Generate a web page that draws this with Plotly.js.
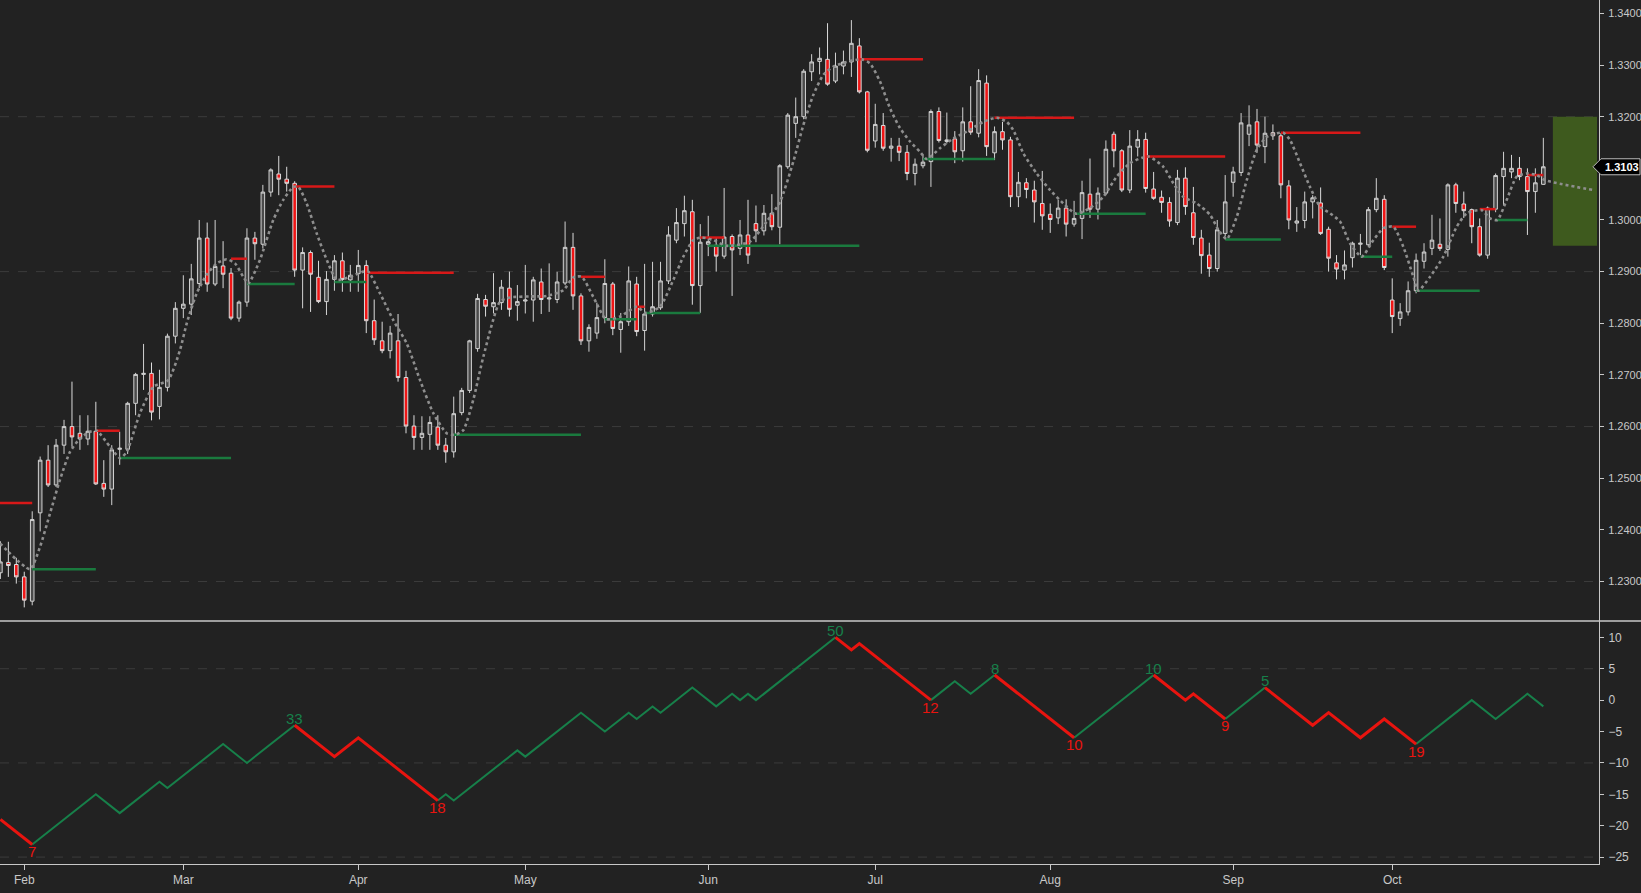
<!DOCTYPE html>
<html>
<head>
<meta charset="utf-8">
<script src="https://cdn.plot.ly/plotly-3.0.1.min.js"></script>
<style>
html,body{margin:0;padding:0;background:#222222;overflow:hidden;}
#chart{width:1641px;height:893px;}
</style>
</head>
<body>
<div id="chart"></div>
<script>
// ---- Month ticks (trading-day index; day 0 = Jan 29) ----
const monthIdx = [3, 23, 45, 66, 89, 110, 132, 155, 175];
const monthNames = ['Feb', 'Mar', 'Apr', 'May', 'Jun', 'Jul', 'Aug', 'Sep', 'Oct'];
// price tick labels visible on the right axis (1.3100 is hidden under the last-price tag)
const priceTicks = [1.23, 1.24, 1.25, 1.26, 1.27, 1.28, 1.29, 1.30, 1.32, 1.33, 1.34];
const oscTicks = [-25, -20, -15, -10, -5, 0, 5, 10];

// ---- Daily OHLC ----
const opens = [
1.2317,1.2337,1.2333,1.2309,1.2262,1.2433,1.2535,1.2487,1.2564,1.2600,
1.2587,1.2576,1.2591,1.2490,1.2479,1.2556,1.2556,1.2645,1.2701,1.2703,
1.2639,1.2676,1.2775,1.2829,1.2837,1.2877,1.2965,1.2876,1.2911,1.2897,
1.2810,1.2841,1.2965,1.2953,1.3054,1.3089,1.3079,1.3071,1.2903,1.2937,
1.2889,1.2842,1.2885,1.2921,1.2884,1.2896,1.2912,1.2805,1.2766,1.2747,
1.2766,1.2695,1.2601,1.2579,1.2585,1.2599,1.2564,1.2551,1.2627,1.2670,
1.2751,1.2846,1.2832,1.2840,1.2868,1.2835,1.2843,1.2845,1.2880,1.2847,
1.2846,1.2878,1.2947,1.2853,1.2766,1.2781,1.2811,1.2876,1.2788,1.2803,
1.2876,1.2786,1.2818,1.2830,1.2882,1.2961,1.2993,1.3016,1.2873,1.2953,
1.2951,1.2930,1.2968,1.2945,1.2971,1.2993,1.2979,1.3013,1.2986,1.3103,
1.3187,1.3200,1.3287,1.3307,1.3311,1.3269,1.3298,1.3306,1.3337,1.3248,
1.3153,1.3183,1.3139,1.3143,1.3131,1.3090,1.3105,1.3113,1.3210,1.3152,
1.3157,1.3134,1.3190,1.3168,1.3265,1.3130,1.3171,1.3155,1.3045,1.3072,
1.3058,1.3032,1.3011,1.3004,1.3023,1.2992,1.3003,1.3050,1.3021,1.3052,
1.3166,1.3134,1.3058,1.3141,1.3156,1.3060,1.3044,1.3034,1.2995,1.3081,
1.3014,1.2965,1.2932,1.2906,1.2974,1.3073,1.3092,1.3166,1.3190,1.3142,
1.3169,1.3163,1.3066,1.2994,1.2999,1.3035,1.3033,1.2982,1.2917,1.2903,
1.2927,1.2953,1.2952,1.3020,1.3040,1.2845,1.2809,1.2822,1.2863,1.2920,
1.2945,1.2953,1.2943,1.3068,1.3031,1.3020,1.2987,1.2932,1.3021,1.3084,
1.3093,1.3100,1.3084,1.3055,1.3069];
const highs = [
1.2378,1.2377,1.2346,1.2319,1.2436,1.2542,1.2564,1.2576,1.2613,1.2687,
1.2622,1.2622,1.2648,1.2535,1.2564,1.2590,1.2648,1.2704,1.2760,1.2724,
1.2710,1.2780,1.2841,1.2893,1.2915,1.3000,1.2995,1.3000,1.2959,1.2907,
1.2844,1.2984,1.2977,1.3068,1.3100,1.3124,1.3103,1.3075,1.2947,1.2941,
1.2921,1.2901,1.2932,1.2937,1.2913,1.2942,1.2922,1.2846,1.2803,1.2795,
1.2818,1.2708,1.2622,1.2620,1.2620,1.2622,1.2578,1.2658,1.2675,1.2768,
1.2857,1.2855,1.2897,1.2884,1.2900,1.2874,1.2913,1.2890,1.2906,1.2916,
1.2900,1.2997,1.2975,1.2858,1.2798,1.2840,1.2924,1.2880,1.2820,1.2910,
1.2890,1.2915,1.2919,1.2919,1.2988,1.3023,1.3047,1.3039,1.2992,1.3008,
1.2965,1.3062,1.2972,1.3000,1.3039,1.3028,1.3029,1.3050,1.3108,1.3207,
1.3237,1.3292,1.3321,1.3334,1.3381,1.3324,1.3328,1.3387,1.3352,1.3250,
1.3225,1.3207,1.3159,1.3159,1.3145,1.3119,1.3126,1.3214,1.3218,1.3208,
1.3172,1.3218,1.3259,1.3292,1.3280,1.3181,1.3190,1.3161,1.3093,1.3081,
1.3076,1.3095,1.3032,1.3039,1.3040,1.3037,1.3076,1.3119,1.3063,1.3154,
1.3171,1.3137,1.3174,1.3174,1.3169,1.3093,1.3057,1.3044,1.3097,1.3102,
1.3064,1.2981,1.2956,1.3000,1.3087,1.3103,1.3207,1.3222,1.3215,1.3200,
1.3185,1.3168,1.3077,1.3025,1.3055,1.3048,1.3063,1.2987,1.2932,1.2941,
1.2958,1.2973,1.3025,1.3081,1.3048,1.2887,1.2839,1.2881,1.2935,1.2955,
1.3010,1.3003,1.3071,1.3072,1.3055,1.3022,1.3003,1.3026,1.3090,1.3132,
1.3126,1.3122,1.3100,1.3100,1.3159];
const lows = [
1.2305,1.2309,1.2296,1.2250,1.2254,1.2397,1.2483,1.2483,1.2547,1.2561,
1.2555,1.2564,1.2487,1.2464,1.2448,1.2526,1.2547,1.2622,1.2671,1.2612,
1.2614,1.2668,1.2761,1.2810,1.2816,1.2868,1.2861,1.2872,1.2868,1.2806,
1.2803,1.2832,1.2923,1.2945,1.3045,1.3048,1.3055,1.2890,1.2829,1.2822,
1.2839,1.2816,1.2863,1.2861,1.2861,1.2861,1.2781,1.2758,1.2742,1.2732,
1.2687,1.2587,1.2555,1.2555,1.2555,1.2555,1.2530,1.2540,1.2622,1.2665,
1.2745,1.2813,1.2819,1.2826,1.2813,1.2805,1.2819,1.2803,1.2818,1.2822,
1.2839,1.2874,1.2826,1.2758,1.2745,1.2770,1.2800,1.2777,1.2743,1.2795,
1.2775,1.2747,1.2813,1.2826,1.2876,1.2955,1.2968,1.2836,1.2820,1.2930,
1.2900,1.2925,1.2853,1.2932,1.2915,1.2957,1.2970,1.2980,1.2953,1.3099,
1.3159,1.3195,1.3269,1.3282,1.3260,1.3265,1.3282,1.3277,1.3245,1.3131,
1.3140,1.3134,1.3113,1.3114,1.3077,1.3067,1.3100,1.3064,1.3150,1.3148,
1.3110,1.3113,1.3165,1.3160,1.3124,1.3116,1.3136,1.3025,1.3025,1.3042,
1.2995,1.2981,1.2975,1.2992,1.2968,1.2987,1.2963,1.3004,1.3001,1.3048,
1.3102,1.3054,1.3052,1.3123,1.3053,1.3039,1.3014,1.2987,1.2990,1.3010,
1.2952,1.2896,1.2890,1.2900,1.2968,1.3045,1.3085,1.3143,1.3130,1.3110,
1.3155,1.3042,1.2982,1.2977,1.2984,1.3003,1.2971,1.2900,1.2885,1.2885,
1.2908,1.2932,1.2948,1.3015,1.2903,1.2781,1.2795,1.2815,1.2858,1.2906,
1.2932,1.2940,1.2929,1.3014,1.3004,1.2955,1.2929,1.2925,1.3015,1.3029,
1.3081,1.3077,1.2971,1.3014,1.3068];
const closes = [
1.2338,1.2331,1.2309,1.2264,1.2420,1.2535,1.2487,1.2564,1.2600,1.2580,
1.2576,1.2591,1.2489,1.2479,1.2555,1.2558,1.2645,1.2701,1.2703,1.2628,
1.2676,1.2775,1.2829,1.2837,1.2886,1.2965,1.2876,1.2910,1.2895,1.2810,
1.2841,1.2965,1.2954,1.3054,1.3097,1.3079,1.3071,1.2903,1.2937,1.2895,
1.2842,1.2885,1.2921,1.2885,1.2893,1.2912,1.2805,1.2768,1.2747,1.2781,
1.2695,1.2601,1.2579,1.2587,1.2608,1.2564,1.2551,1.2625,1.2670,1.2766,
1.2848,1.2833,1.2840,1.2870,1.2827,1.2842,1.2845,1.2884,1.2846,1.2849,
1.2880,1.2947,1.2853,1.2766,1.2792,1.2811,1.2877,1.2790,1.2803,1.2882,
1.2784,1.2818,1.2832,1.2882,1.2971,1.2995,1.3018,1.2873,1.2957,1.2958,
1.2930,1.2967,1.2942,1.2971,1.2932,1.2979,1.3013,1.2987,1.3105,1.3203,
1.3200,1.3288,1.3306,1.3313,1.3263,1.3298,1.3306,1.3342,1.3248,1.3135,
1.3185,1.3139,1.3143,1.3131,1.3090,1.3108,1.3112,1.3210,1.3154,1.3155,
1.3132,1.3190,1.3170,1.3270,1.3142,1.3171,1.3155,1.3045,1.3073,1.3059,
1.3035,1.3008,1.3001,1.3023,1.2992,1.3003,1.3053,1.3021,1.3052,1.3137,
1.3134,1.3058,1.3143,1.3156,1.3061,1.3042,1.3034,1.2998,1.3081,1.3026,
1.2966,1.2931,1.2906,1.2981,1.3035,1.3093,1.3188,1.3184,1.3145,1.3168,
1.3163,1.3068,1.3000,1.2998,1.3035,1.3043,1.2974,1.2926,1.2905,1.2913,
1.2955,1.2955,1.3020,1.3042,1.2908,1.2813,1.2822,1.2863,1.2922,1.2938,
1.2961,1.2945,1.3068,1.3032,1.3018,1.2987,1.2932,1.3023,1.3086,1.3100,
1.3100,1.3084,1.3055,1.3072,1.3103];

// ---- Resistance (red) and support (green) levels: start day, end day, price ----
const resStart = [-1, 12, 29, 37, 46, 73, 80, 88, 108, 125, 144, 161, 175, 186, 192];
const resEnd   = [4, 15, 31, 42, 57, 76, 81, 91, 116, 135, 154, 171, 178, 188, 194];
const resPrice = [1.2452, 1.2592, 1.2925, 1.3065, 1.2898, 1.2890, 1.2832, 1.2966, 1.3311, 1.3198, 1.3123, 1.3169, 1.2987, 1.3021, 1.3087];
const supStart = [4, 15, 31, 42, 57, 76, 81, 89, 116, 135, 154, 171, 178, 188];
const supEnd   = [12, 29, 37, 46, 73, 80, 88, 108, 125, 144, 161, 175, 186, 192];
const supPrice = [1.2324, 1.2539, 1.2876, 1.2880, 1.2584, 1.2808, 1.2820, 1.2950, 1.3118, 1.3012, 1.2962, 1.2929, 1.2863, 1.3000];

// ---- Dotted swing curve ----
const dotIdx = [-0.05,3.72,4.98,6.24,7.49,8.75,10.01,11.27,12.11,13.78,15.04,15.88,17.55,19.23,21.11,22.58,23.43,24.68,25.94,27.20,
28.45,29.50,30.54,31.17,32.64,34.31,35.57,36.83,37.46,38.51,39.77,41.03,42.29,43.96,45.63,46.26,47.73,49.40,51.09,52.76,
54.43,56.12,57.16,58.20,59.46,60.72,62.82,64.08,66.59,68.69,70.78,72.04,73.09,74.55,76.15,77.91,80.01,81.14,82.94,84.61,
85.87,87.13,88.18,89.64,91.32,94.25,96.36,98.03,99.70,100.96,102.21,103.47,104.73,106.41,108.30,109.34,110.60,111.86,113.11,114.37,
115.63,116.47,118.14,119.82,121.50,123.59,125.28,126.53,127.36,128.62,130.30,131.98,133.65,135.24,137.00,138.68,140.36,142.03,144.33,146.22,
147.48,148.73,150.42,152.10,153.14,154.20,155.45,156.71,157.97,159.22,160.48,161.31,162.15,163.41,164.66,165.92,167.18,168.44,169.69,171.17,
172.63,173.89,175.14,176.40,177.66,178.28,179.76,181.43,183.11,184.37,186.26,187.30,188.22,189.40,190.66,191.91,193.17,194.21,200.29];
const dotVal = [1.2374,1.2324,1.2367,1.2432,1.2497,1.2551,1.2577,1.2590,1.2592,1.2561,1.2539,1.2551,1.2626,1.2677,1.2690,1.2748,1.2800,1.2858,1.2894,1.2916,
1.2924,1.2916,1.2890,1.2877,1.2923,1.3000,1.3039,1.3064,1.3064,1.3032,1.2974,1.2923,1.2884,1.2890,1.2900,1.2900,1.2858,1.2806,1.2761,1.2690,
1.2626,1.2587,1.2584,1.2593,1.2652,1.2735,1.2842,1.2850,1.2852,1.2853,1.2864,1.2889,1.2890,1.2851,1.2808,1.2813,1.2832,1.2820,1.2832,1.2884,
1.2929,1.2961,1.2966,1.2961,1.2950,1.2958,1.2997,1.3035,1.3113,1.3184,1.3242,1.3281,1.3297,1.3306,1.3311,1.3303,1.3268,1.3216,1.3178,1.3152,
1.3132,1.3118,1.3139,1.3158,1.3171,1.3190,1.3198,1.3190,1.3174,1.3129,1.3090,1.3058,1.3032,1.3012,1.3023,1.3045,1.3084,1.3110,1.3123,1.3103,
1.3071,1.3045,1.3032,1.3010,1.2981,1.2963,1.3006,1.3077,1.3136,1.3161,1.3168,1.3169,1.3155,1.3110,1.3064,1.3026,1.3013,1.2997,1.2955,1.2929,
1.2961,1.2984,1.2987,1.2948,1.2890,1.2863,1.2890,1.2929,1.2987,1.3013,1.3019,1.3003,1.3000,1.3039,1.3084,1.3090,1.3087,1.3077,1.3058];

// ---- Projection box ----
const boxStart = 195.2, boxEnd = 200.75, boxLow = 1.2950, boxHigh = 1.3200;
const lastPrice = 1.3103;

// ---- Lower panel: swing counter line (vertices) ----
const oscIdx = [0,4,12,15,20,21,28,31,37,42,45,55,56,57,65,66,73,76,79,80,82,83,87,90,92,93,94,95,105,107,108,117,120,122,125,135,145,149,150,154,159,165,167,171,174,178,185,188,192,194];
const oscVal = [-19,-23,-15,-18,-13,-14,-7,-10,-4,-9,-6,-16,-15,-16,-8,-9,-2,-5,-2,-3,-1,-2,2,-1,1,0,1,0,10,8,9,0,3,1,4,-6,4,0,1,-3,2,-4,-2,-6,-3,-7,0,-3,1,-1];
const swingIdx  = [4, 37, 55, 105, 117, 125, 135, 145, 154, 159, 178];
const swingLen  = [7, 33, 18, 50, 12, 8, 10, 10, 9, 5, 19];
const swingKind = ['low','high','low','high','low','high','low','high','low','high','low'];

// ---- Grid levels ----
const priceGrid = [1.23, 1.26, 1.29, 1.32];
const oscGrid = [5, -10, -25];

// ================= build =================
const RED = '#e8140f', GREEN = '#17804a';
const days = opens.map((_, i) => i);
const FONT = "'Liberation Sans', Arial, sans-serif";
const TXT = '#c8c8c8';

function segs(starts, ends, prices) {
  const x = [], y = [];
  starts.forEach((s, k) => { x.push(s, ends[k], null); y.push(prices[k], prices[k], null); });
  return {x, y};
}
const rs = segs(resStart, resEnd, resPrice);
const ss = segs(supStart, supEnd, supPrice);

const bounds = [oscIdx[0]].concat(swingIdx, [oscIdx[oscIdx.length - 1]]);
const redX = [], redY = [], grnX = [], grnY = [];
for (let s = 0; s < bounds.length - 1; s++) {
  const a = bounds[s], b = bounds[s + 1];
  let falling;
  if (s < swingKind.length) falling = swingKind[s] === 'low';
  else falling = swingKind[swingKind.length - 1] === 'high';
  const tx = falling ? redX : grnX, ty = falling ? redY : grnY;
  oscIdx.forEach((ix, k) => { if (ix >= a && ix <= b) { tx.push(ix); ty.push(oscVal[k]); } });
  tx.push(null); ty.push(null);
}

const traces = [
  {
    type: 'candlestick', x: days, open: opens, high: highs, low: lows, close: closes,
    xaxis: 'x', yaxis: 'y', whiskerwidth: 0, hoverinfo: 'skip',
    increasing: {line: {color: '#d2d2d2', width: 1}, fillcolor: '#4a4a4a'},
    decreasing: {line: {color: '#dcdcdc', width: 1}, fillcolor: '#f01616'}
  },
  {type: 'scatter', mode: 'lines', x: rs.x, y: rs.y, xaxis: 'x', yaxis: 'y', line: {color: '#d81818', width: 2.5}, hoverinfo: 'skip'},
  {type: 'scatter', mode: 'lines', x: ss.x, y: ss.y, xaxis: 'x', yaxis: 'y', line: {color: '#1a7a3e', width: 2.5}, hoverinfo: 'skip'},
  {type: 'scatter', mode: 'lines', x: dotIdx, y: dotVal, xaxis: 'x', yaxis: 'y',
   line: {color: '#8e8e8e', width: 2.6, dash: 'dot', shape: 'spline', smoothing: 0.6}, hoverinfo: 'skip'},
  {type: 'scatter', mode: 'lines', x: grnX, y: grnY, xaxis: 'x', yaxis: 'y2', line: {color: GREEN, width: 2}, hoverinfo: 'skip', connectgaps: false},
  {type: 'scatter', mode: 'lines', x: redX, y: redY, xaxis: 'x', yaxis: 'y2', line: {color: RED, width: 3}, hoverinfo: 'skip', connectgaps: false}
];

const annotations = swingIdx.map((ix, k) => {
  const v = oscVal[oscIdx.indexOf(ix)];
  const hi = swingKind[k] === 'high';
  return {
    x: ix, y: v, xref: 'x', yref: 'y2', text: String(swingLen[k]), showarrow: false,
    yanchor: 'middle', xanchor: 'center', yshift: hi ? 7 : -7,
    font: {family: FONT, size: 15, color: hi ? GREEN : RED}
  };
});

const PX = 1599, W = 1641;
const halfH = 8 / 5165;
annotations.push({
  x: 1622 / PX, y: lastPrice, xref: 'paper', yref: 'y', text: '<b>' + lastPrice.toFixed(4) + '</b>',
  showarrow: false, xanchor: 'center', yanchor: 'middle',
  font: {family: FONT, size: 11, color: '#ffffff'}
});

const shapes = [];
priceGrid.forEach(p => shapes.push({type: 'line', xref: 'paper', yref: 'y', x0: 0, x1: 1, y0: p, y1: p,
  line: {color: '#3c3c3c', width: 1, dash: 'dash'}, layer: 'below'}));
oscGrid.forEach(p => shapes.push({type: 'line', xref: 'paper', yref: 'y2', x0: 0, x1: 1, y0: p, y1: p,
  line: {color: '#3c3c3c', width: 1, dash: 'dash'}, layer: 'below'}));
shapes.push({type: 'rect', xref: 'x', yref: 'y', x0: boxStart, x1: boxEnd, y0: boxLow, y1: boxHigh,
  fillcolor: '#3e5a1e', line: {width: 0}, layer: 'below'});
const DOM = (864 - 621) / 864;
shapes.push({type: 'line', xref: 'paper', yref: 'paper', x0: 0, x1: W / PX, y0: DOM, y1: DOM,
  line: {color: '#c8c8c8', width: 1.5}});
const xt = 1593 / PX, xr = 1601 / PX, xe = (W - 1) / PX;
shapes.push({type: 'path', xref: 'paper', yref: 'y', layer: 'above',
  path: `M ${xt},${lastPrice} L ${xr},${lastPrice + halfH} L ${xe},${lastPrice + halfH} L ${xe},${lastPrice - halfH} L ${xr},${lastPrice - halfH} Z`,
  fillcolor: '#000000', line: {color: '#bdbdbd', width: 1}});

const axFont = {family: FONT, size: 11, color: TXT};
const layout = {
  width: 1641, height: 893,
  paper_bgcolor: '#222222', plot_bgcolor: '#222222',
  margin: {l: 0, r: 42, t: 0, b: 29, pad: 0},
  showlegend: false, hovermode: false, boxgap: 0.36,
  xaxis: {
    range: [-0.05, 201.0], anchor: 'y2', tickvals: monthIdx, ticktext: monthNames,
    ticks: 'outside', ticklen: 5, tickcolor: TXT, showline: true, linecolor: TXT, linewidth: 1,
    showgrid: false, zeroline: false, rangeslider: {visible: false},
    tickfont: {family: FONT, size: 12, color: TXT},
    fixedrange: true, automargin: false
  },
  yaxis: {
    domain: [DOM, 1], range: [1.22236, 1.34259], side: 'right', anchor: 'x',
    tickmode: 'array', tickvals: priceTicks, tickformat: '.4f', ticks: 'outside', ticklen: 4, tickcolor: TXT,
    showline: true, linecolor: TXT, linewidth: 1, showgrid: false, zeroline: false,
    tickfont: axFont, ticklabelstandoff: 2, automargin: false, fixedrange: true
  },
  yaxis2: {
    domain: [0, DOM], range: [-26.1, 12.6], side: 'right', anchor: 'x',
    tickmode: 'array', tickvals: oscTicks, ticks: 'outside', ticklen: 4, tickcolor: TXT,
    showline: true, linecolor: TXT, linewidth: 1, showgrid: false, zeroline: false,
    tickfont: {family: FONT, size: 12, color: TXT}, ticklabelstandoff: 2, automargin: false, fixedrange: true
  },
  shapes: shapes,
  annotations: annotations
};

Plotly.newPlot('chart', traces, layout, {displayModeBar: false, responsive: false, staticPlot: true});
</script>
</body>
</html>
